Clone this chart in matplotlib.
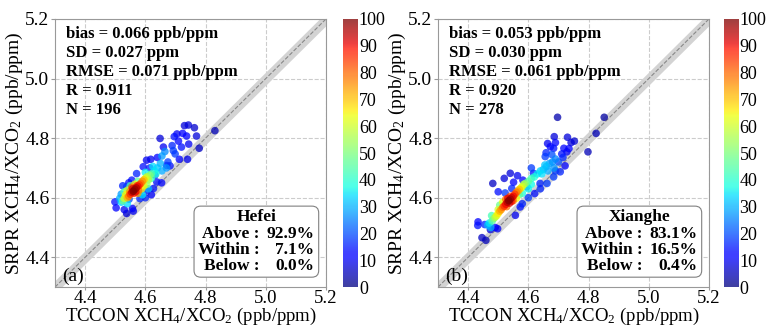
import numpy as np
import matplotlib
matplotlib.use('Agg')
import matplotlib.pyplot as plt
from matplotlib.patches import FancyBboxPatch

plt.rcParams['font.family'] = ['Liberation Serif', 'DejaVu Serif']
plt.rcParams['mathtext.fontset'] = 'custom'
plt.rcParams['mathtext.rm'] = 'Liberation Serif'
plt.rcParams['mathtext.default'] = 'regular'

# ---- data (x, y, point density) ----
hefei_pts = [
    # red core
    (4.560, 4.622, 100), (4.565, 4.628, 98), (4.570, 4.633, 96), (4.555, 4.618, 93),
    (4.575, 4.638, 90), (4.558, 4.630, 92), (4.568, 4.620, 91), (4.550, 4.612, 86),
    (4.580, 4.643, 85), (4.562, 4.615, 88), (4.572, 4.640, 87),
    # orange
    (4.545, 4.605, 78), (4.585, 4.648, 80), (4.590, 4.655, 75), (4.548, 4.620, 76),
    (4.578, 4.625, 79), (4.540, 4.600, 72), (4.595, 4.660, 70), (4.555, 4.635, 82),
    (4.575, 4.615, 74),
    # yellow
    (4.535, 4.610, 65), (4.600, 4.665, 62), (4.605, 4.670, 58), (4.530, 4.598, 60),
    (4.588, 4.630, 66), (4.565, 4.645, 64), (4.540, 4.625, 60), (4.610, 4.660, 56),
    (4.595, 4.640, 63),
    # green
    (4.615, 4.675, 50), (4.525, 4.590, 48), (4.620, 4.680, 45), (4.530, 4.620, 44),
    (4.575, 4.655, 47), (4.605, 4.645, 52), (4.550, 4.640, 46), (4.620, 4.665, 42),
    # cyan
    (4.630, 4.690, 35), (4.640, 4.700, 32), (4.520, 4.585, 33), (4.515, 4.598, 30),
    (4.650, 4.715, 30), (4.655, 4.740, 28), (4.665, 4.755, 26), (4.625, 4.705, 34),
    (4.600, 4.685, 36), (4.540, 4.580, 34), (4.520, 4.612, 28), (4.635, 4.680, 38),
    (4.610, 4.630, 30), (4.670, 4.700, 27), (4.655, 4.690, 29), (4.590, 4.610, 35),
    # blue outliers
    (4.831, 4.825, 5), (4.779, 4.766, 6), (4.743, 4.844, 8), (4.730, 4.842, 8),
    (4.763, 4.835, 7), (4.770, 4.807, 8), (4.737, 4.807, 12), (4.724, 4.816, 12),
    (4.705, 4.814, 10), (4.696, 4.805, 14), (4.744, 4.780, 10), (4.689, 4.775, 16),
    (4.693, 4.758, 18), (4.699, 4.747, 18), (4.713, 4.729, 12), (4.740, 4.729, 10),
    (4.649, 4.799, 8), (4.682, 4.707, 14), (4.671, 4.708, 15), (4.654, 4.650, 12),
    (4.627, 4.631, 14), (4.582, 4.614, 20), (4.604, 4.726, 10), (4.618, 4.729, 10),
    (4.593, 4.704, 14), (4.632, 4.676, 18), (4.582, 4.597, 16), (4.546, 4.595, 20),
    (4.538, 4.547, 8), (4.557, 4.564, 12), (4.499, 4.586, 14), (4.503, 4.566, 12),
    (4.538, 4.637, 18), (4.555, 4.659, 14), (4.571, 4.681, 16), (4.604, 4.625, 15),
    (4.638, 4.653, 14), (4.620, 4.610, 12), (4.600, 4.600, 16), (4.560, 4.555, 10),
    (4.530, 4.560, 10), (4.525, 4.640, 16), (4.545, 4.650, 14), (4.615, 4.700, 15),
    (4.640, 4.735, 12), (4.660, 4.770, 10), (4.710, 4.790, 12), (4.720, 4.770, 14),
    (4.675, 4.720, 18),
]

xianghe_pts = [
    # red core
    (4.535, 4.590, 100), (4.540, 4.595, 97), (4.530, 4.585, 95), (4.545, 4.600, 93),
    (4.525, 4.578, 90), (4.550, 4.605, 90), (4.538, 4.582, 92), (4.532, 4.598, 91),
    (4.520, 4.572, 86), (4.555, 4.612, 85), (4.545, 4.588, 88),
    # orange
    (4.515, 4.568, 80), (4.560, 4.618, 78), (4.510, 4.560, 75), (4.565, 4.622, 74),
    (4.525, 4.595, 80), (4.550, 4.590, 77), (4.505, 4.555, 72), (4.570, 4.628, 70),
    (4.540, 4.605, 82), (4.528, 4.570, 79),
    # yellow
    (4.500, 4.548, 66), (4.495, 4.540, 62), (4.575, 4.632, 64), (4.580, 4.638, 60),
    (4.490, 4.535, 58), (4.515, 4.585, 63), (4.560, 4.598, 65), (4.585, 4.645, 56),
    (4.500, 4.560, 60),
    # green
    (4.485, 4.530, 50), (4.480, 4.522, 45), (4.590, 4.648, 50), (4.600, 4.655, 46),
    (4.610, 4.665, 42), (4.505, 4.575, 48), (4.570, 4.610, 47), (4.478, 4.540, 43),
    # cyan
    (4.470, 4.515, 35), (4.465, 4.508, 30), (4.620, 4.670, 38), (4.630, 4.680, 35),
    (4.640, 4.690, 33), (4.650, 4.695, 31), (4.660, 4.705, 30), (4.670, 4.715, 28),
    (4.680, 4.720, 26), (4.655, 4.710, 32), (4.645, 4.680, 34), (4.685, 4.700, 27),
    (4.690, 4.730, 25), (4.600, 4.630, 36), (4.580, 4.615, 38), (4.475, 4.500, 30),
    (4.665, 4.690, 29), (4.610, 4.645, 37),
    # blue outliers
    (4.852, 4.870, 3), (4.825, 4.816, 5), (4.798, 4.754, 5), (4.697, 4.870, 4),
    (4.686, 4.805, 8), (4.730, 4.803, 8), (4.753, 4.790, 7), (4.742, 4.785, 8),
    (4.718, 4.766, 12), (4.664, 4.782, 10), (4.673, 4.771, 12), (4.684, 4.766, 14),
    (4.659, 4.751, 16), (4.656, 4.738, 18), (4.711, 4.747, 14), (4.722, 4.707, 12),
    (4.706, 4.687, 16), (4.684, 4.670, 18), (4.662, 4.648, 18), (4.639, 4.648, 16),
    (4.621, 4.614, 14), (4.595, 4.637, 20), (4.557, 4.541, 10), (4.573, 4.569, 14),
    (4.498, 4.496, 10), (4.474, 4.493, 8), (4.459, 4.457, 5), (4.446, 4.466, 6),
    (4.433, 4.519, 12), (4.432, 4.507, 14), (4.482, 4.648, 6), (4.520, 4.665, 8),
    (4.540, 4.682, 8), (4.564, 4.674, 10), (4.582, 4.659, 12), (4.545, 4.631, 16),
    (4.551, 4.652, 12), (4.523, 4.616, 18), (4.617, 4.682, 14), (4.728, 4.754, 10),
    (4.700, 4.720, 20), (4.715, 4.735, 16), (4.690, 4.690, 18), (4.640, 4.630, 16),
    (4.600, 4.600, 18), (4.580, 4.580, 16), (4.490, 4.500, 12), (4.455, 4.510, 16),
    (4.735, 4.765, 12), (4.678, 4.745, 20), (4.690, 4.785, 12), (4.610, 4.700, 18),
    (4.500, 4.620, 14),
]

stats_a = ['bias = 0.066 ppb/ppm', 'SD = 0.027 ppm', 'RMSE = 0.071 ppb/ppm',
           'R = 0.911', 'N = 196']
stats_b = ['bias = 0.053 ppb/ppm', 'SD = 0.030 ppm', 'RMSE = 0.061 ppb/ppm',
           'R = 0.920', 'N = 278']
site_a = 'Hefei'
site_b = 'Xianghe'
pct_a = ['92.9%', '7.1%', '0.0%']
pct_b = ['83.1%', '16.5%', '0.4%']
pct_names = ['Above :', 'Within :', 'Below :']
ticks = [4.4, 4.6, 4.8, 5.0, 5.2]
cbar_ticks = list(range(0, 101, 10))

band = 0.022
lo, hi = 4.3, 5.2

fig = plt.figure(figsize=(7.66, 3.27), dpi=100)


def panel(left, cleft, pts, stats, site, pcts, tag):
    ax = fig.add_axes([left, 0.122, 0.3538, 0.820])
    cax = fig.add_axes([cleft, 0.122, 0.0196, 0.820])
    pts = sorted(pts, key=lambda p: p[2])
    xs = [p[0] for p in pts]
    ys = [p[1] for p in pts]
    ds = [p[2] for p in pts]

    line = np.array([lo, hi])
    ax.fill_between(line, line - band, line + band, color='#d3d3d3', zorder=1, lw=0)
    ax.plot(line, line, '--', color='#888888', lw=0.8, zorder=2)
    sc = ax.scatter(xs, ys, c=ds, cmap='jet', vmin=0, vmax=100, s=30,
                    alpha=0.75, edgecolors='none', zorder=3)

    ax.set_xlim(lo, hi)
    ax.set_ylim(lo, hi)
    ax.set_xticks(ticks)
    ax.set_yticks(ticks)
    ax.set_xticklabels(['%.1f' % t for t in ticks])
    ax.set_yticklabels(['%.1f' % t for t in ticks])
    ax.tick_params(labelsize=14, length=3, color='0.6', pad=1)
    ax.tick_params(axis='x', pad=0, length=2, labelsize=13.5)
    ax.grid(True, ls='--', color='#cccccc', lw=0.8, zorder=0)
    ax.set_axisbelow(True)
    for s in ax.spines.values():
        s.set_color('0.6')
    ax.set_xlabel('TCCON XCH$_4$/XCO$_2$ (ppb/ppm)', fontsize=13.5, labelpad=-0.5)
    ax.set_ylabel('SRPR XCH$_4$/XCO$_2$ (ppb/ppm)', fontsize=14, labelpad=0)

    ax.text(0.04, 0.975, '\n'.join(stats), transform=ax.transAxes, fontsize=12,
            fontweight='bold', va='top', ha='left', linespacing=1.25, zorder=5)
    ax.text(0.025, 0.04, tag, transform=ax.transAxes, fontsize=14,
            va='center', ha='left', zorder=5)

    box = FancyBboxPatch((0.513, 0.037), 0.46, 0.265, transform=ax.transAxes,
                         boxstyle='round,pad=0,rounding_size=0.025',
                         fc='white', ec='0.5', lw=0.8, zorder=6)
    ax.add_patch(box)
    ax.text(0.745, 0.26, site, transform=ax.transAxes, fontsize=12.5,
            fontweight='bold', ha='center', va='center', zorder=7)
    for i, (nm, v) in enumerate(zip(pct_names, pcts)):
        yy = 0.198 - i * 0.06
        ax.text(0.755, yy, nm, transform=ax.transAxes, fontsize=12.5,
                fontweight='bold', ha='right', va='center', zorder=7)
        ax.text(0.957, yy, v, transform=ax.transAxes, fontsize=12.5,
                fontweight='bold', ha='right', va='center', zorder=7)

    cb = fig.colorbar(sc, cax=cax, ticks=cbar_ticks)
    cb.solids.set_alpha(0.75)
    cb.outline.set_visible(False)
    cb.ax.tick_params(labelsize=13, length=0, pad=0.5)
    return ax


panel(0.0718, 0.448, hefei_pts, stats_a, site_a, pct_a, '(a)')
panel(0.5718, 0.945, xianghe_pts, stats_b, site_b, pct_b, '(b)')

fig.savefig('out.png', dpi=100)
